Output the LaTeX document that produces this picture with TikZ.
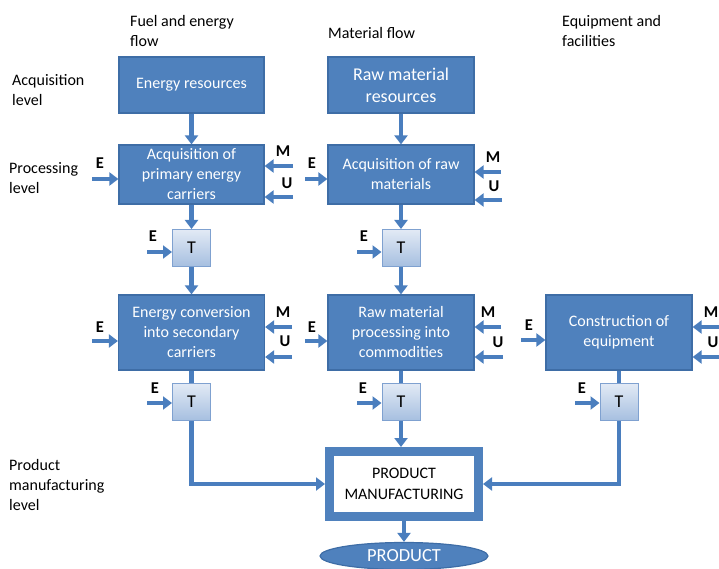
\documentclass[tikz,border=0pt]{standalone}
\usepackage{fontspec}
\setmainfont{Carlito}
\usetikzlibrary{arrows.meta,shapes.geometric}
\definecolor{boxblue}{HTML}{4F81BD}
\definecolor{boxedge}{HTML}{3E6DA6}
\definecolor{flowblue}{HTML}{4A7EBE}
\definecolor{tedge}{HTML}{7FA1D0}
\definecolor{ttop}{HTML}{E2EAF5}
\definecolor{tbot}{HTML}{A6BFE0}
\begin{document}
\begin{tikzpicture}[x=1pt,y=-1pt,
  bluebox/.style={draw=boxedge, line width=1.2pt, fill=boxblue, text=white, align=center,
    font=\fontsize{16}{20}\selectfont, inner sep=2pt},
  tbox/.style={draw=tedge, line width=1pt, top color=ttop, bottom color=tbot,
    minimum width=38pt, minimum height=37pt, font=\fontsize{18}{20}\selectfont, inner sep=0pt},
  flow/.style={draw=flowblue, line width=4.5pt, -{Triangle[width=13pt,length=9pt]}},
  plainflow/.style={draw=flowblue, line width=4.5pt},
  lbl/.style={font=\bfseries\fontsize{16.5}{17}\selectfont, inner sep=0pt},
  note/.style={font=\fontsize{16}{20}\selectfont, align=left, anchor=west, inner sep=0pt}]
\useasboundingbox (0,0) rectangle (719,569);

% column headings and level labels
\node[note] (h1) at (130,31) {Fuel and energy\\flow};
\node[note] (h2) at (328,33) {Material flow};
\node[note] (h3) at (562,31) {Equipment and\\facilities};
\node[note] (l1) at (12,90) {Acquisition\\level};
\node[note] (l2) at (9,178) {Processing\\level};
\node[note] (l3) at (9,485) {Product\\manufacturing\\level};

% main boxes
\node[bluebox, minimum width=145pt, minimum height=56pt] (er) at (191.5,85) {Energy resources};
\node[bluebox, minimum width=146pt, minimum height=56pt, font=\fontsize{18}{22}\selectfont] (rm) at (401,85) {Raw material\\resources};
\node[bluebox, minimum width=145pt, minimum height=59pt] (ape) at (191.5,174.5) {Acquisition of\\primary energy\\carriers};
\node[bluebox, minimum width=146pt, minimum height=59pt] (arm) at (401,174.5) {Acquisition of raw\\materials};
\node[bluebox, minimum width=146pt, minimum height=75pt] (ec) at (191.5,332.5) {Energy conversion\\into secondary\\carriers};
\node[bluebox, minimum width=146pt, minimum height=75pt] (rmp) at (401,332.5) {Raw material\\processing into\\commodities};
\node[bluebox, minimum width=146pt, minimum height=75pt] (ce) at (619,332.5) {Construction of\\equipment};

% T boxes
\node[tbox] (t1) at (191.5,248) {T};
\node[tbox] (t2) at (401,248) {T};
\node[tbox] (t3) at (191.5,402) {T};
\node[tbox] (t4) at (401,402) {T};
\node[tbox] (t5) at (619,402) {T};

% product manufacturing and product
\node[draw=boxblue, line width=9pt, fill=white, minimum width=149pt, minimum height=65pt,
  align=center, font=\fontsize{16}{21}\selectfont, inner sep=2pt] (pm) at (404,484) {PRODUCT\\MANUFACTURING};
\node[ellipse, draw=boxedge, line width=1.2pt, fill=boxblue, text=white, minimum width=168pt,
  minimum height=27pt, inner sep=0pt, font=\fontsize{18.5}{19}\selectfont] (prod) at (404,556) {PRODUCT};

% main flow connectors
\draw[flow] (er) -- (ape);
\draw[flow] (rm) -- (arm);
\draw[flow] (ape) -- (t1);
\draw[flow] (t1) -- (ec);
\draw[flow] (arm) -- (t2);
\draw[flow] (t2) -- (rmp);
\draw[plainflow] (ec) -- (t3);
\draw[plainflow] (rmp) -- (t4);
\draw[plainflow] (ce) -- (t5);
\draw[flow] (t4.south) -- (t4.south |- pm.north);
\draw[flow] (t3.south) |- (pm.west);
\draw[flow] (t5.south) |- (pm.east);
\draw[flow] (pm) -- (prod);

% side inputs: E from left, M and U from right
% row 1, energy
\coordinate (eA) at (92,179);  \draw[flow] (eA) -- (eA -| ape.west);  \node[lbl] (eAl) at (100,163) {E};
\coordinate (mA) at (293,166); \draw[flow] (mA) -- (mA -| ape.east);  \node[lbl] (mAl) at (283,151) {M};
\coordinate (uA) at (293,197); \draw[flow] (uA) -- (uA -| ape.east);  \node[lbl] (uAl) at (287,183) {U};
% row 1, material
\coordinate (eB) at (305,179); \draw[flow] (eB) -- (eB -| arm.west);  \node[lbl] (eBl) at (312,163) {E};
\coordinate (mB) at (501,172); \draw[flow] (mB) -- (mB -| arm.east);  \node[lbl] (mBl) at (493,157) {M};
\coordinate (uB) at (502,200); \draw[flow] (uB) -- (uB -| arm.east);  \node[lbl] (uBl) at (494,186) {U};
% T row 1
\coordinate (eT1) at (147,252); \draw[flow] (eT1) -- (eT1 -| t1.west); \node[lbl] (eT1l) at (153,236) {E};
\coordinate (eT2) at (357,252); \draw[flow] (eT2) -- (eT2 -| t2.west); \node[lbl] (eT2l) at (364,236) {E};
% row 2, energy
\coordinate (eC) at (92,341);  \draw[flow] (eC) -- (eC -| ec.west);   \node[lbl] (eCl) at (100,327) {E};
\coordinate (mC) at (292,327); \draw[flow] (mC) -- (mC -| ec.east);   \node[lbl] (mCl) at (283,312) {M};
\coordinate (uC) at (292,357); \draw[flow] (uC) -- (uC -| ec.east);   \node[lbl] (uCl) at (285,341) {U};
% row 2, material
\coordinate (eD) at (305,341); \draw[flow] (eD) -- (eD -| rmp.west);  \node[lbl] (eDl) at (312,327) {E};
\coordinate (mD) at (501,327); \draw[flow] (mD) -- (mD -| rmp.east);  \node[lbl] (mDl) at (488,312) {M};
\coordinate (uD) at (503,357); \draw[flow] (uD) -- (uD -| rmp.east);  \node[lbl] (uDl) at (498,342) {U};
% row 2, equipment
\coordinate (eE) at (521,340); \draw[flow] (eE) -- (eE -| ce.west);   \node[lbl] (eEl) at (529,325) {E};
\coordinate (mE) at (719,327); \draw[flow] (mE) -- (mE -| ce.east);   \node[lbl] (mEl) at (711,312) {M};
\coordinate (uE) at (719,357); \draw[flow] (uE) -- (uE -| ce.east);   \node[lbl] (uEl) at (713,342) {U};
% T row 2
\coordinate (eT3) at (147,403); \draw[flow] (eT3) -- (eT3 -| t3.west); \node[lbl] (eT3l) at (155,388) {E};
\coordinate (eT4) at (357,403); \draw[flow] (eT4) -- (eT4 -| t4.west); \node[lbl] (eT4l) at (363,388) {E};
\coordinate (eT5) at (575,403); \draw[flow] (eT5) -- (eT5 -| t5.west); \node[lbl] (eT5l) at (582,388) {E};
\end{tikzpicture}
\end{document}
